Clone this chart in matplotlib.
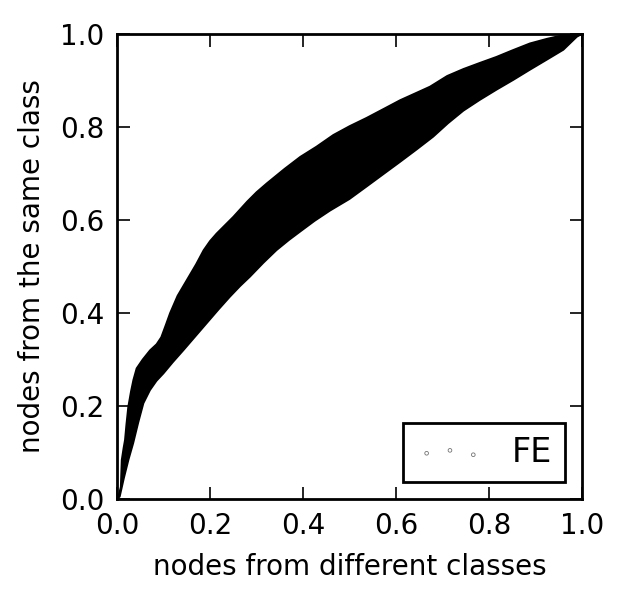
import matplotlib
matplotlib.use("Agg")
import matplotlib.pyplot as plt

# Upper envelope of the bundle of curves
upper_x = [0.0, 0.004, 0.008, 0.010, 0.014, 0.017, 0.020, 0.024, 0.030, 0.035,
           0.042, 0.055, 0.071, 0.085, 0.095, 0.105, 0.114, 0.130, 0.150, 0.170,
           0.186, 0.200, 0.214, 0.235, 0.250, 0.280, 0.300, 0.322, 0.360, 0.394,
           0.429, 0.465, 0.500, 0.537, 0.575, 0.609, 0.640, 0.673, 0.710, 0.745,
           0.780, 0.816, 0.850, 0.888, 0.925, 0.960, 0.985, 1.0]
upper_y = [0.0, 0.010, 0.026, 0.084, 0.110, 0.127, 0.160, 0.198, 0.232, 0.256,
           0.281, 0.300, 0.320, 0.333, 0.348, 0.375, 0.400, 0.437, 0.471, 0.505,
           0.535, 0.555, 0.571, 0.592, 0.607, 0.640, 0.660, 0.679, 0.710, 0.736,
           0.758, 0.783, 0.802, 0.820, 0.840, 0.858, 0.872, 0.887, 0.910, 0.925,
           0.938, 0.951, 0.965, 0.980, 0.990, 0.998, 1.0, 1.0]

# Lower envelope of the bundle of curves
lower_x = [0.0, 0.006, 0.015, 0.025, 0.035, 0.046, 0.057, 0.071, 0.085, 0.100,
           0.120, 0.143, 0.168, 0.193, 0.218, 0.243, 0.265, 0.286, 0.315, 0.343,
           0.370, 0.394, 0.425, 0.458, 0.500, 0.537, 0.575, 0.609, 0.645, 0.680,
           0.712, 0.745, 0.780, 0.816, 0.852, 0.888, 0.925, 0.960, 0.989, 1.0]
lower_y = [0.0, 0.005, 0.045, 0.085, 0.120, 0.165, 0.206, 0.234, 0.254, 0.270,
           0.294, 0.320, 0.349, 0.378, 0.407, 0.435, 0.458, 0.478, 0.508, 0.535,
           0.557, 0.575, 0.598, 0.620, 0.645, 0.672, 0.700, 0.725, 0.752, 0.779,
           0.808, 0.835, 0.858, 0.880, 0.901, 0.923, 0.945, 0.966, 0.994, 1.0]

legend_label = "FE"
xticks = [0.0, 0.2, 0.4, 0.6, 0.8, 1.0]
yticks = [0.0, 0.2, 0.4, 0.6, 0.8, 1.0]

plt.rcParams['font.family'] = ['DejaVu Sans']
fig = plt.figure(figsize=(6.24, 6.0), dpi=100, facecolor='white')
ax = fig.add_axes([0.1875, 0.1683, 0.7452, 0.775])

poly_x = upper_x + lower_x[::-1]
poly_y = upper_y + lower_y[::-1]
ax.fill(poly_x, poly_y, color='black', lw=0)
ax.plot(upper_x, upper_y, color='black', lw=1.2)
ax.plot(lower_x, lower_y, color='black', lw=1.2)

# legend handle: scatter with tiny hollow markers
ax.scatter([], [], s=7, facecolors='white', edgecolors='0.45', linewidths=0.6,
           label=legend_label)

ax.set_xlim(0, 1)
ax.set_ylim(0, 1)
ax.set_xticks(xticks)
ax.set_yticks(yticks)
ax.tick_params(direction='in', top=True, right=True, length=9, width=1.2,
               labelsize=20, pad=9)
for s in ax.spines.values():
    s.set_linewidth(2)
ax.set_xlabel('nodes from different classes', fontsize=20, labelpad=10)
ax.set_ylabel('nodes from the same class', fontsize=20, labelpad=10)

leg = ax.legend(loc='lower right', scatterpoints=3, fontsize=24,
                fancybox=False, edgecolor='black', framealpha=1,
                borderpad=0.4, handlelength=2.0, handletextpad=0.85,
                borderaxespad=0.5)
leg.get_frame().set_linewidth(2)

fig.savefig('out.png', dpi=100, facecolor='white')
